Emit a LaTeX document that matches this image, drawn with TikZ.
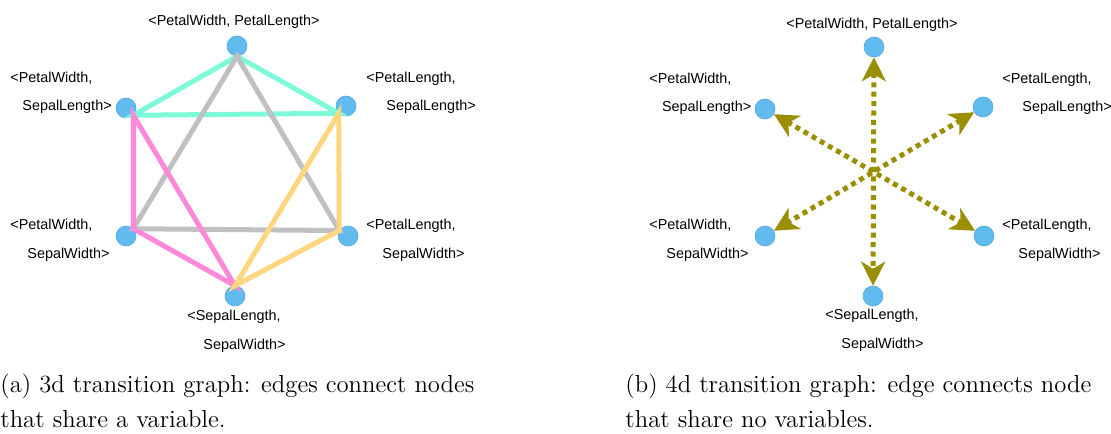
\documentclass[tikz,border=0pt]{standalone}
\usepackage{fontspec}
\usepackage{tikz}
\usepackage{xcolor}
\usetikzlibrary{arrows.meta}

\newfontfamily\labelfont{Liberation Sans}

\definecolor{vtxfill}{HTML}{62BBEE}
\definecolor{vtxline}{HTML}{52AADF}
\definecolor{petalcol}{HTML}{7DFBD8}
\definecolor{greycol}{HTML}{C0C0C0}
\definecolor{pinkcol}{HTML}{FF88D9}
\definecolor{orangecol}{HTML}{FFD67F}
\definecolor{swapcol}{HTML}{998F00}

\begin{document}
\begin{tikzpicture}[x=0.5pt, y=-0.5pt,
    >={Stealth[length=12pt, width=12pt, inset=3.5pt]},
    vtx/.style={circle, minimum size=10pt, inner sep=0pt, fill=vtxfill, draw=vtxline, line width=0.3pt},
    lbl/.style={font=\labelfont\fontsize{7.2}{14.3}\selectfont, align=left, inner sep=0pt, anchor=base west},
    capt/.style={font=\fontsize{12.35}{17.5}\selectfont, align=left, inner sep=0pt, anchor=base west},
    link/.style={line width=2.5pt},
    swap/.style={line width=2.5pt, swapcol, dash pattern=on 2.5pt off 2.2pt, <->}]
    \useasboundingbox (0,0) rectangle (1111,433);

    % (a) 3d graph
    \node[vtx] (t) at (237,46) {};
    \node[vtx] (ul) at (126,108) {};
    \node[vtx] (ur) at (346,106) {};
    \node[vtx] (ll) at (126,236) {};
    \node[vtx] (lr) at (348,236) {};
    \node[vtx] (b) at (235,296) {};

    \draw[link, petalcol] (t.south) -- (ul.south east) -- (ur.south west) -- cycle;
    \draw[link, greycol] (t.south) -- (ll.north east) -- (lr.148) -- cycle;
    \draw[link, pinkcol] (ul.south east) -- (ll.north east) -- (b.north) -- cycle;
    \draw[link, orangecol] (ur.south west) -- (lr.148) -- (b.north) -- cycle;

    \node[lbl, anchor=base] (tl) at (234,26) {<PetalWidth, PetalLength>};
    \node[lbl] (ull) at (10,111) {<PetalWidth,\\\hspace*{6pt}SepalLength>};
    \node[lbl] (url) at (366,111) {<PetalLength,\\\hspace*{10pt}SepalLength>};
    \node[lbl] (lll) at (10,258) {<PetalWidth,\\\hspace*{8.5pt}SepalWidth>};
    \node[lbl] (lrl) at (366,258) {<PetalLength,\\\hspace*{8pt}SepalWidth>};
    \node[lbl] (bl) at (187,349) {<SepalLength,\\\hspace*{8pt}SepalWidth>};

    % (b) 4d graph
    \node[vtx] (t2) at (874,47) {};
    \node[vtx] (ul2) at (765,109) {};
    \node[vtx] (ur2) at (983,107) {};
    \node[vtx] (ll2) at (765,236) {};
    \node[vtx] (lr2) at (984,236) {};
    \node[vtx] (b2) at (873,296) {};

    \draw[swap] (t2) -- (b2);
    \draw[swap] (ul2) -- (lr2);
    \draw[swap] (ur2) -- (ll2);

    \node[lbl, anchor=base] (tl2) at (872,28.5) {<PetalWidth, PetalLength>};
    \node[lbl] (ull2) at (649,112) {<PetalWidth,\\\hspace*{6.3pt}SepalLength>};
    \node[lbl] (url2) at (1002,112) {<PetalLength,\\\hspace*{10pt}SepalLength>};
    \node[lbl] (lll2) at (649,258) {<PetalWidth,\\\hspace*{8.5pt}SepalWidth>};
    \node[lbl] (lrl2) at (1002,258) {<PetalLength,\\\hspace*{8pt}SepalWidth>};
    \node[lbl] (bl2) at (825,348) {<SepalLength,\\\hspace*{8pt}SepalWidth>};

    % captions
    \node[capt] (capa) at (0,427) {(a) 3d transition graph: edges connect nodes\\that share a variable.};
    \node[capt] (capb) at (625,427) {(b) 4d transition graph: edge connects node\\that share no variables.};
\end{tikzpicture}
\end{document}
